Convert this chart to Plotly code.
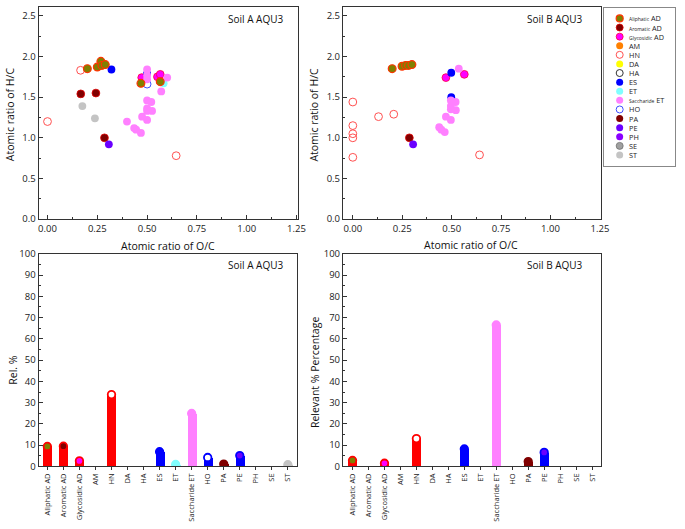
import plotly.graph_objects as go

# ---------------- data ----------------
categories = ["Aliphatic AD", "Aromatic AD", "Glycosidic AD", "AM", "HN", "DA", "HA", "ES",
              "ET", "Saccharide ET", "HO", "PA", "PE", "PH", "SE", "ST"]
rel_soil_a = [9.4, 9.5, 2.6, 0, 33.8, 0, 0, 6.9, 0.9, 24.9, 4.2, 1.1, 5.1, 0, 0, 0.8]
rel_soil_b = [2.8, 0, 1.5, 0, 13.1, 0, 0, 8.2, 0, 66.5, 0, 2.3, 6.6, 0, 0, 0]

x_ticks_vk = [0.0, 0.25, 0.5, 0.75, 1.0, 1.25]
y_ticks_vk = [0.0, 0.5, 1.0, 1.5, 2.0, 2.5]

# Soil A  (O/C, H/C)
a_hn_oc = [0.0, 0.166, 0.646]
a_hn_hc = [1.20, 1.83, 0.78]
a_glyc_oc = [0.473, 0.552, 0.566]
a_glyc_hc = [1.74, 1.75, 1.78]
a_es_oc = [0.321, 0.50]
a_es_hc = [1.84, 1.79]
a_ho_oc = [0.50]
a_ho_hc = [1.66]
a_et_oc = [0.583]
a_et_hc = [1.67]
a_sacc_oc = [0.399, 0.435, 0.445, 0.469, 0.475, 0.50, 0.50, 0.521, 0.50, 0.50, 0.525, 0.571, 0.601, 0.50, 0.50, 0.50]
a_sacc_hc = [1.20, 1.12, 1.10, 1.06, 1.26, 1.22, 1.46, 1.44, 1.36, 1.33, 1.33, 1.57, 1.74, 1.84, 1.77, 1.72]
a_aliph_oc = [0.20, 0.25, 0.268, 0.273, 0.29, 0.469, 0.566]
a_aliph_hc = [1.85, 1.87, 1.94, 1.89, 1.90, 1.67, 1.69]
a_arom_oc = [0.167, 0.243, 0.286]
a_arom_hc = [1.54, 1.55, 1.00]
a_pe_oc = [0.308]
a_pe_hc = [0.92]
a_st_oc = [0.175, 0.238]
a_st_hc = [1.39, 1.24]

# Soil B  (O/C, H/C)
b_hn_oc = [0.0, 0.0, 0.0, 0.0, 0.0, 0.13, 0.207, 0.641]
b_hn_hc = [1.44, 1.15, 1.05, 1.00, 0.76, 1.26, 1.29, 0.79]
b_glyc_oc = [0.471, 0.564]
b_glyc_hc = [1.74, 1.78]
b_es_oc = [0.498, 0.498]
b_es_hc = [1.80, 1.50]
b_sacc_oc = [0.536, 0.496, 0.52, 0.496, 0.496, 0.521, 0.471, 0.496, 0.437, 0.448, 0.465]
b_sacc_hc = [1.85, 1.46, 1.44, 1.39, 1.35, 1.34, 1.26, 1.22, 1.13, 1.10, 1.07]
b_aliph_oc = [0.199, 0.249, 0.267, 0.282, 0.299]
b_aliph_hc = [1.85, 1.88, 1.89, 1.89, 1.90]
b_arom_oc = [0.286]
b_arom_hc = [1.00]
b_pe_oc = [0.305]
b_pe_hc = [0.92]

# ---------------- styles ----------------
FONT = "Open Sans"
AX = "#333333"
W, H = 685, 529

# class marker styles: (fill, outline colour, outline width)
STY = {
    "Aliphatic AD": ("#808000", "#FF3300", 1.2),
    "Aromatic AD": ("#800000", "#E00000", 0.8),
    "Glycosidic AD": ("#FF00FF", "#FF0040", 0.8),
    "AM": ("#FF8000", "#FF8000", 0),
    "HN": ("rgba(255,255,255,0)", "#FF5050", 1.0),
    "DA": ("#FFFF00", "#FFFF00", 0),
    "HA": ("rgba(255,255,255,0)", "#333333", 1.0),
    "ES": ("#0000FF", "#0000FF", 0),
    "ET": ("#80FFFF", "#80FFFF", 0),
    "Saccharide ET": ("#FF80FF", "#FF80FF", 0),
    "HO": ("rgba(255,255,255,0)", "#4050FF", 1.0),
    "PA": ("#800000", "#800000", 0),
    "PE": ("#6A00FF", "#5000FF", 0),
    "PH": ("#8A00FF", "#8A00FF", 0),
    "SE": ("#A0A0A0", "#707070", 0.8),
    "ST": ("#C4C4C4", "#C4C4C4", 0),
}

BAR_COL = {"Aliphatic AD": "#FF0000", "Aromatic AD": "#FF0000", "Glycosidic AD": "#FF0000",
           "AM": "#FF0000", "HN": "#FF0000", "DA": "#FF0000", "HA": "#FF0000",
           "ES": "#0000FF", "ET": "#80FFFF", "Saccharide ET": "#FF80FF", "HO": "#0000FF",
           "PA": "#800000", "PE": "#0000FF", "PH": "#0000FF", "SE": "#C4C4C4", "ST": "#C4C4C4"}
TOP_FILL = {"HN": "#FFFFFF", "HO": "#FFFFFF"}


def px_x(a, b):
    return [a / W, b / W]


def px_y(top, bottom):
    return [(H - bottom) / H, (H - top) / H]


fig = go.Figure()


def scatter(oc, hc, cls, xa, ya, size=7.8):
    fill, line, lw = STY[cls]
    fig.add_trace(go.Scatter(x=oc, y=hc, mode="markers", xaxis=xa, yaxis=ya, showlegend=False,
                             marker=dict(size=size, color=fill, line=dict(color=line, width=lw))))


# Soil A scatter
for oc, hc, cls in [(a_hn_oc, a_hn_hc, "HN"), (a_glyc_oc, a_glyc_hc, "Glycosidic AD"),
                    (a_es_oc, a_es_hc, "ES"), (a_ho_oc, a_ho_hc, "HO"), (a_et_oc, a_et_hc, "ET"),
                    (a_sacc_oc, a_sacc_hc, "Saccharide ET"), (a_aliph_oc, a_aliph_hc, "Aliphatic AD"),
                    (a_arom_oc, a_arom_hc, "Aromatic AD"), (a_pe_oc, a_pe_hc, "PE"),
                    (a_st_oc, a_st_hc, "ST")]:
    scatter(oc, hc, cls, "x", "y")

# Soil B scatter
for oc, hc, cls in [(b_hn_oc, b_hn_hc, "HN"), (b_glyc_oc, b_glyc_hc, "Glycosidic AD"),
                    (b_es_oc, b_es_hc, "ES"), (b_sacc_oc, b_sacc_hc, "Saccharide ET"),
                    (b_aliph_oc, b_aliph_hc, "Aliphatic AD"), (b_arom_oc, b_arom_hc, "Aromatic AD"),
                    (b_pe_oc, b_pe_hc, "PE")]:
    scatter(oc, hc, cls, "x2", "y2")


def bars(vals, xa, ya):
    fig.add_trace(go.Bar(x=categories, y=vals, xaxis=xa, yaxis=ya, width=0.56, showlegend=False,
                         marker=dict(color=[BAR_COL[c] for c in categories], line=dict(width=0))))
    cx = [c for c, v in zip(categories, vals) if v > 0]
    cy = [v for v in vals if v > 0]
    fig.add_trace(go.Scatter(x=cx, y=cy, mode="markers", xaxis=xa, yaxis=ya, showlegend=False,
                             marker=dict(size=7.5,
                                         color=[TOP_FILL.get(c, STY[c][0]) for c in cx],
                                         line=dict(color=[BAR_COL[c] for c in cx], width=1.8))))


bars(rel_soil_a, "x3", "y3")
bars(rel_soil_b, "x4", "y4")

# custom legend (own axes)
fig.add_trace(go.Scatter(x=[16] * len(categories), y=list(range(len(categories))), mode="markers",
                         xaxis="x5", yaxis="y5", showlegend=False,
                         marker=dict(size=7, color=[STY[c][0] for c in categories],
                                     line=dict(color=[STY[c][1] for c in categories],
                                               width=[max(STY[c][2], 0) for c in categories]))))

legend_labels = []
for c in categories:
    parts = c.split(" ")
    if len(parts) == 2:
        legend_labels.append("<span style='font-size:5px'>%s</span> %s" % (parts[0], parts[1]))
    else:
        legend_labels.append(c)

annotations = []
for i, lab in enumerate(legend_labels):
    annotations.append(dict(x=24, y=i, xref="x5", yref="y5", text=lab, showarrow=False,
                            xanchor="left", yanchor="middle", borderpad=0,
                            font=dict(family=FONT, size=7.3, color="#222")))

# titles / labels
def ann(x, y, text, size=10.5, angle=0, xanchor="center", yanchor="middle"):
    annotations.append(dict(x=x / W, y=(H - y) / H, xref="paper", yref="paper", text=text,
                            showarrow=False, textangle=angle, xanchor=xanchor, yanchor=yanchor,
                            font=dict(family=FONT, size=size, color="#111")))


ann(170, 245, "Atomic ratio of O/C")
ann(477, 244, "Atomic ratio of O/C")
ann(10, 110, "Atomic ratio of H/C", angle=-90)
ann(318, 110, "Atomic ratio of H/C", angle=-90)
ann(13, 372, "Rel. %", angle=-90)
ann(318, 375, "Relevant % Percentage", angle=-90)
ann(288, 12, "Soil A AQU3", size=10, xanchor="right")
ann(592, 12, "Soil B AQU3", size=10, xanchor="right")
ann(288, 264, "Soil A AQU3", size=10, xanchor="right")
ann(592, 264, "Soil B AQU3", size=10, xanchor="right")

tickfont = dict(family=FONT, size=9.5, color="#222")
common = dict(showline=True, linecolor=AX, linewidth=1, mirror=True, showgrid=False,
              zeroline=False, ticks="inside", ticklen=4, tickcolor=AX, tickfont=tickfont)

vk_x = dict(common, tickvals=x_ticks_vk, tickformat=".2f",
            minor=dict(dtick=0.125, tick0=0, ticks="inside", ticklen=2, tickcolor=AX))
vk_y = dict(common, tickvals=y_ticks_vk, tickformat=".1f",
            minor=dict(dtick=0.25, tick0=0, ticks="inside", ticklen=2, tickcolor=AX))
bar_y = dict(common, range=[0, 100], dtick=10,
             minor=dict(dtick=5, tick0=0, ticks="inside", ticklen=2, tickcolor=AX))
bar_x = dict(common, ticks="outside", ticklen=3, tickangle=-90, type="category",
             tickfont=dict(family=FONT, size=7.5, color="#222"))

top = px_y(0.5, 217.5)
bot = px_y(253, 471)

fig.update_layout(
    width=W, height=H, margin=dict(l=0, r=0, t=0, b=0),
    paper_bgcolor="white", plot_bgcolor="white", bargap=0,
    font=dict(family=FONT),
    xaxis=dict(vk_x, domain=px_x(39, 302), range=[-0.045, 1.26], anchor="y"),
    yaxis=dict(vk_y, domain=top, range=[0, 2.602], anchor="x"),
    xaxis2=dict(vk_x, domain=px_x(347, 608), range=[-0.05, 1.255], anchor="y2"),
    yaxis2=dict(vk_y, domain=top, range=[0, 2.602], anchor="x2"),
    xaxis3=dict(bar_x, domain=px_x(39, 301), range=[-0.55, 15.6], anchor="y3"),
    yaxis3=dict(bar_y, domain=bot, anchor="x3"),
    xaxis4=dict(bar_x, domain=px_x(347, 608), range=[-0.6, 15.55], anchor="y4"),
    yaxis4=dict(bar_y, domain=bot, anchor="x4"),
    xaxis5=dict(domain=px_x(611, 683), range=[0, 72], anchor="y5", showline=True, mirror=True,
                linecolor="#888", linewidth=1.2, showticklabels=False, ticks="", showgrid=False,
                zeroline=False, fixedrange=True),
    yaxis5=dict(domain=px_y(1, 163), range=[16.21, -1.147], anchor="x5", showline=True,
                mirror=True, linecolor="#888", linewidth=1.2, showticklabels=False, ticks="",
                showgrid=False, zeroline=False, fixedrange=True),
    annotations=annotations,
)

fig.write_html("out.html", config={"displayModeBar": False},
               post_script="document.body.style.margin='0';")
